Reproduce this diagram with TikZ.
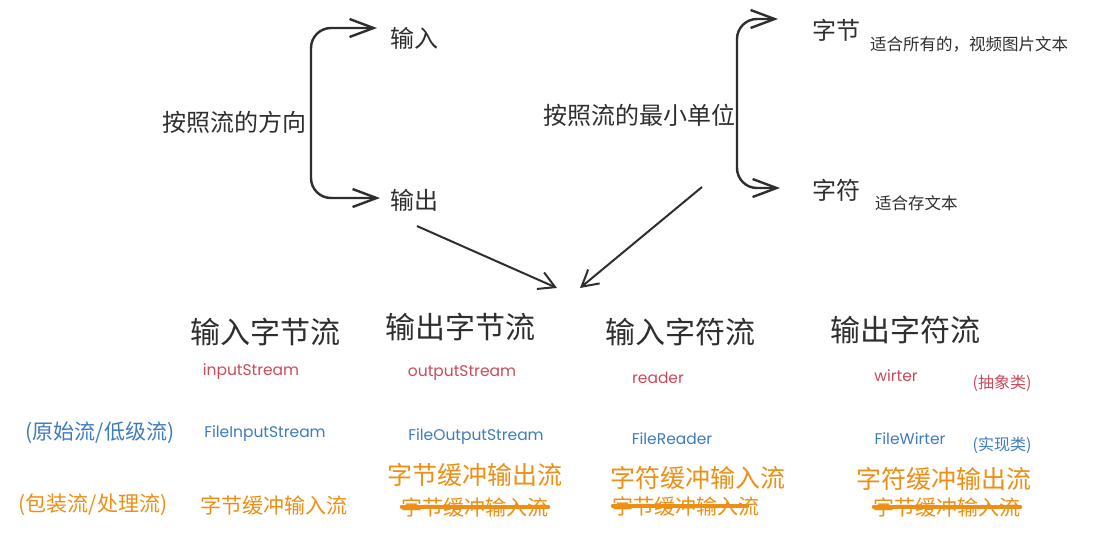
\documentclass[tikz,border=0pt]{standalone}
\usepackage{xcolor}
\usepackage{fontspec}
\usepackage{tikz}
\usetikzlibrary{arrows.meta}

\newfontfamily\cjk{Noto Sans CJK SC}
\newfontfamily\hand{Poppins}

\definecolor{inkgray}{HTML}{2E2E2E}
\definecolor{absred}{HTML}{C94A5C}
\definecolor{implblue}{HTML}{3D7BC0}
\definecolor{bufforange}{HTML}{EE8E12}

\begin{document}
\begin{tikzpicture}[x=1pt, y=-1pt,
      every node/.style={inner sep=0pt, outer sep=0pt},
      topic/.style={font=\cjk\fontsize{24}{27}\selectfont, text=inkgray},
      note/.style={font=\cjk\fontsize{16.5}{19}\selectfont, text=inkgray},
      head/.style={font=\cjk\fontsize{30}{34}\selectfont, text=inkgray},
      cls/.style={font=\hand\fontsize{15.5}{18}\selectfont},
      abscls/.style={cls, text=absred},
      implcls/.style={cls, text=implblue},
      tag/.style={font=\cjk\fontsize{21}{24}\selectfont},
      buff/.style={font=\cjk\fontsize{25}{28}\selectfont, text=bufforange},
      oldbuff/.style={font=\cjk\fontsize{21}{24}\selectfont, text=bufforange},
      barb/.style={-{Straight Barb[length=24pt, width=18pt]}, line width=2.4pt,
                   draw=inkgray, rounded corners=20pt},
      arrow/.style={-{Straight Barb[length=16pt, width=18pt]}, line width=2pt, draw=inkgray},
      strike/.style={line width=3.5pt, draw=bufforange, line cap=round},
    ]
    \useasboundingbox (0,0) rectangle (1099,536);

    % by direction
    \node[topic, anchor=west] (dir) at (162,122) {按照流的方向};
    \node[topic, anchor=west] (in) at (390,38) {输入};
    \node[topic, anchor=west] (out) at (390,200) {输出};

    % by smallest unit
    \node[topic, anchor=west] (unit) at (543,115) {按照流的最小单位};
    \node[topic, anchor=west] (byte) at (812,30) {字节};
    \node[note, anchor=west] (bytenote) at (870,44) {适合所有的，视频图片文本};
    \node[topic, anchor=west] (char) at (812,190) {字符};
    \node[note, anchor=west] (charnote) at (875,203) {适合存文本};

    % braces
    \draw[barb] ([xshift=5pt]dir.east) |- ([xshift=-13pt, yshift=10pt]in.west);
    \draw[barb] ([xshift=5pt]dir.east) |- ([xshift=-10pt, yshift=2pt]out.west);
    \draw[barb] ([xshift=2pt]unit.east) |- ([xshift=-34pt, yshift=11pt]byte.west);
    \draw[barb] ([xshift=2pt]unit.east) |- ([xshift=-32pt, yshift=2pt]char.west);

    % arrows down to the four streams
    \coordinate (hub) at (569,288);
    \coordinate (tail) at (702,187);
    \draw[arrow] ([xshift=3pt, yshift=-15pt]out.south) -- ([xshift=-12pt]hub);
    \draw[arrow] (tail) -- ([xshift=11pt]hub);

    % stream headers
    \node[head] (inbyte) at (265,332) {输入字节流};
    \node[head] (outbyte) at (460,327) {输出字节流};
    \node[head] (inchar) at (680,332) {输入字符流};
    \node[head] (outchar) at (905,330) {输出字符流};

    % abstract classes
    \node[abscls] (istream) at (251,372) {inputStream};
    \node[abscls] (ostream) at (462,373) {outputStream};
    \node[abscls] (reader) at (658,378) {reader};
    \node[abscls] (writer) at (896,376) {wirter};
    \node[tag, text=absred, font=\cjk\fontsize{16}{19}\selectfont] (abstag) at (1002,383) {(抽象类)};

    % implementations
    \node[tag, text=implblue] (rawtag) at (100,433) {(原始流/低级流)};
    \node[implcls] (fistream) at (265,434) {FileInputStream};
    \node[implcls] (fostream) at (476,437) {FileOutputStream};
    \node[implcls] (freader) at (672,439) {FileReader};
    \node[implcls] (fwriter) at (910,439) {FileWirter};
    \node[tag, text=implblue, font=\cjk\fontsize{16}{19}\selectfont] (impltag) at (1002,445) {(实现类)};

    % buffered streams
    \node[tag, text=bufforange] (wraptag) at (93,505) {(包装流/处理流)};
    \node[oldbuff] (bin) at (274,505) {字节缓冲输入流};
    \node[buff] (bout) at (475,475) {字节缓冲输出流};
    \node[oldbuff] (boutold) at (475,507) {字节缓冲输入流};
    \node[buff] (cin) at (698,478) {字符缓冲输入流};
    \node[oldbuff] (cinold) at (686,506) {字节缓冲输入流};
    \node[buff] (cout) at (944,479) {字符缓冲输出流};
    \node[oldbuff] (coutold) at (947,507) {字节缓冲输入流};

    % crossed out
    \draw[strike] (boutold.west) -- (boutold.east);
    \draw[strike] (cinold.west) -- ([xshift=-12pt]cinold.east);
    \draw[strike] (coutold.west) -- (coutold.east);

  \end{tikzpicture}
\end{document}
